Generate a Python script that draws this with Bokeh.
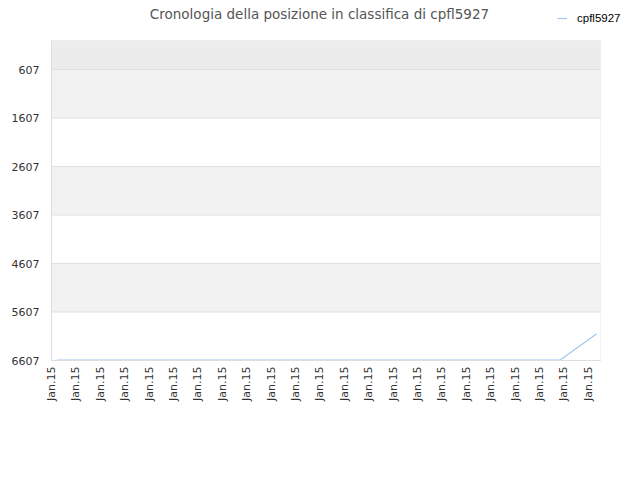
import math
from bokeh.plotting import figure
from bokeh.models import Range1d, FixedTicker, Legend, LegendItem, BoxAnnotation, Label
from bokeh.embed import file_html
from bokeh.resources import INLINE

# ---- data ----
title_text = "Cronologia della posizione in classifica di cpfl5927"
series_name = "cpfl5927"
x_tick_positions = list(range(23))
x_tick_labels = ["Jan.15"] * 23
y_ticks = [607, 1607, 2607, 3607, 4607, 5607, 6607]
y_tick_labels = ["607", "1607", "2607", "3607", "4607", "5607", "6607"]
time_points = [0.22, 20.83, 22.35]
rank_values = [6600, 6600, 6056]
x_lo, x_hi = 0.0, 22.5          # plot area extent along x
y_top, y_bottom = 7, 6607       # plot area extent along y (rank, inverted)

# ---- layout (pixels) ----
W, H = 624, 464
left_px, bottom_px = 51, 104
area_w, area_h = 549, 320        # plot area inside the frame
top_pad, right_pad = 40, W - left_px - area_w   # room for title / legend inside frame
frame_w, frame_h = W - left_px, H - bottom_px

xu = (x_hi - x_lo) / area_w
yu = (y_bottom - y_top) / area_h
x_range = Range1d(x_lo, x_hi + right_pad * xu)
y_range = Range1d(y_bottom, y_top - top_pad * yu)

p = figure(
    frame_width=frame_w, frame_height=frame_h,
    min_border_left=left_px, min_border_right=0, min_border_top=0, min_border_bottom=bottom_px,
    output_backend="svg", toolbar_location=None,
    x_range=x_range, y_range=y_range, title=None,
)
p.background_fill_color = "white"
p.border_fill_color = "white"
p.outline_line_color = None
p.xgrid.visible = False
p.ygrid.visible = False

# bands (between alternate ticks) and the darker top strip
band_bottoms = [y_ticks[i + 1] for i in range(0, len(y_ticks) - 1, 2)]
band_tops = [y_ticks[i] for i in range(0, len(y_ticks) - 1, 2)]
p.quad(left=x_lo, right=x_hi, bottom=band_bottoms, top=band_tops,
       fill_color="#f2f2f2", line_color=None)
p.quad(left=[x_lo], right=[x_hi], bottom=[y_ticks[0]], top=[y_top],
       fill_color="#ececec", line_color=None)
# horizontal grid lines
p.segment(x0=x_lo, x1=x_hi, y0=y_ticks, y1=y_ticks, line_color="#e0e0e0", line_width=1)
# plot area border
p.add_layout(BoxAnnotation(left=x_lo, right=x_hi, top=y_top, bottom=y_bottom,
                           fill_alpha=0, line_color="#dddddd", line_width=1))

line = p.line(time_points, rank_values, line_color="#9fc8f2", line_width=1.2)

# axes
p.xaxis.ticker = FixedTicker(ticks=x_tick_positions)
p.xaxis.major_label_overrides = {t: l for t, l in zip(x_tick_positions, x_tick_labels)}
p.xaxis.major_label_orientation = math.pi / 2
p.xaxis.bounds = (x_lo, x_hi)
p.yaxis.ticker = FixedTicker(ticks=y_ticks)
p.yaxis.major_label_overrides = {t: l for t, l in zip(y_ticks, y_tick_labels)}
p.yaxis.bounds = (y_top, y_bottom)
for ax in (p.xaxis, p.yaxis):
    ax.axis_line_color = "#dddddd"
    ax.major_tick_line_color = None
    ax.minor_tick_line_color = None
    ax.major_tick_out = 0
    ax.major_tick_in = 0
    ax.major_label_text_font = "DejaVu Sans"
    ax.major_label_text_font_size = "11px"
    ax.major_label_text_color = "#333333"
p.yaxis.major_label_standoff = 12
p.xaxis.major_label_standoff = 6

# title (inside the frame's top strip)
p.add_layout(Label(x=268, y=frame_h - 13, x_units="screen", y_units="screen",
                   text=title_text, text_align="center", text_baseline="middle",
                   text_font="DejaVu Sans", text_font_size="13.5px", text_color="#555555"))

legend = Legend(
    items=[LegendItem(label=series_name, renderers=[line])],
    location=(506, frame_h - 24),
    border_line_color=None, background_fill_alpha=0,
    padding=0, margin=0, glyph_width=10, glyph_height=12, label_standoff=10,
    label_height=12,
    label_text_font="Liberation Sans", label_text_font_size="11.5px", label_text_color="#000000",
)
p.add_layout(legend, "center")

open("out.html", "w").write(file_html(p, INLINE))
